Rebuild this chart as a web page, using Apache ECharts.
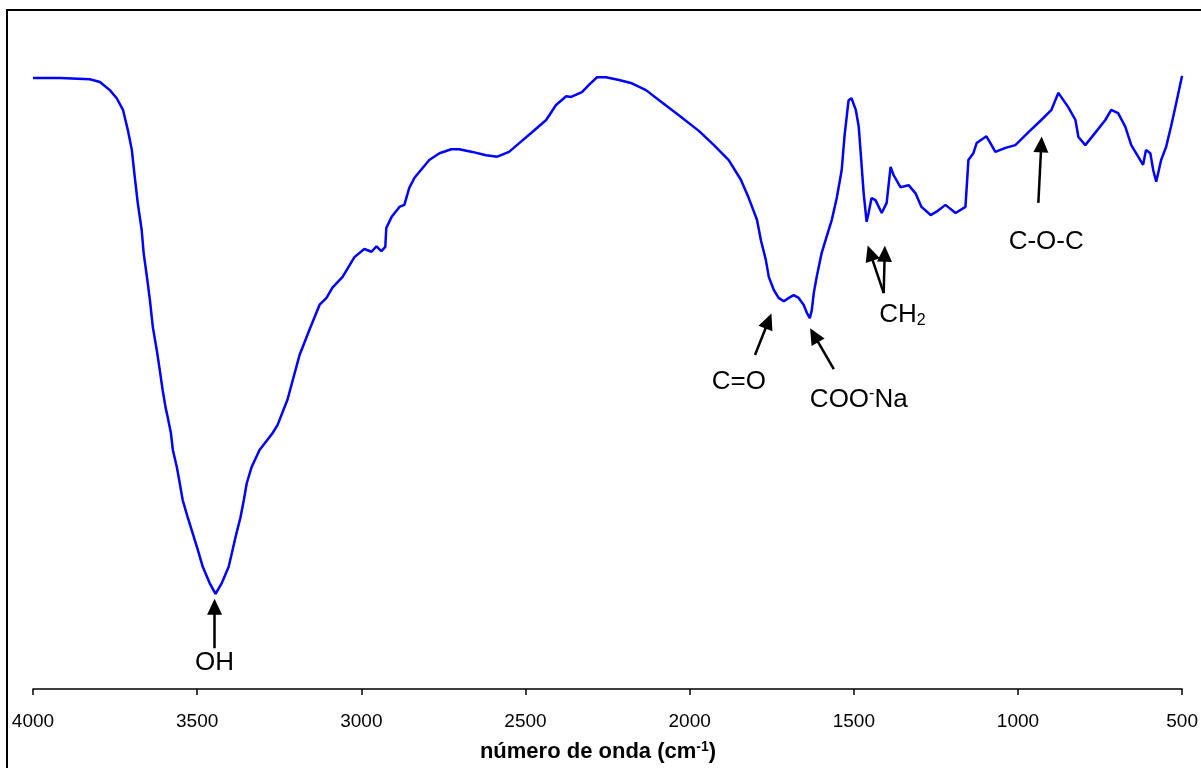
<!DOCTYPE html>
<html>
<head>
<meta charset="utf-8">
<title>Espectro FTIR</title>
<script src="https://cdn.jsdelivr.net/npm/echarts@6/dist/echarts.min.js"></script>
<style>
  html, body { margin: 0; padding: 0; background: #ffffff; }
  #chart { width: 1201px; height: 768px; }
</style>
</head>
<body>
<div id="chart"></div>
<script>
// Número de onda (cm-1) del espectro, de 4000 a 500
const wavenumber = [
  4000, 3918, 3827, 3796, 3766, 3745, 3726, 3711, 3699, 3690,
  3681, 3669, 3663, 3653, 3644, 3635, 3623, 3614, 3605, 3596,
  3590, 3580, 3574, 3562, 3553, 3544, 3529, 3514, 3498, 3483,
  3462, 3444, 3425, 3404, 3392, 3380, 3368, 3358, 3349, 3334,
  3310, 3270, 3255, 3225, 3188, 3158, 3127, 3106, 3088, 3057,
  3021, 2991, 2969, 2954, 2939, 2927, 2924, 2908, 2884, 2869,
  2854, 2838, 2814, 2793, 2762, 2726, 2702, 2662, 2620, 2586,
  2550, 2519, 2480, 2437, 2407, 2376, 2361, 2328, 2306, 2282,
  2255, 2215, 2176, 2133, 2093, 2033, 1972, 1926, 1881, 1844,
  1820, 1795, 1783, 1768, 1759, 1744, 1729, 1713, 1698, 1683,
  1668, 1653, 1643, 1634, 1628, 1622, 1613, 1598, 1583, 1567,
  1552, 1537, 1528, 1516, 1507, 1494, 1485, 1479, 1470, 1461,
  1455, 1446, 1434, 1415, 1400, 1388, 1379, 1358, 1333, 1312,
  1294, 1266, 1248, 1221, 1190, 1160, 1151, 1136, 1126, 1096,
  1084, 1069, 1038, 1008, 968, 929, 898, 877, 847, 825,
  816, 795, 765, 734, 716, 695, 673, 655, 634, 619,
  610, 597, 588, 579, 564, 549, 534, 518, 503, 500
];

// Transmitancia relativa (%) en cada número de onda
const transmittance = [
  90.0, 90.0, 89.8, 89.4, 88.2, 87.0, 85.3, 82.3, 79.4, 75.4,
  71.6, 67.6, 64.2, 60.7, 57.3, 53.3, 49.9, 47.0, 44.0, 41.4,
  40.1, 37.7, 35.2, 32.7, 30.3, 27.8, 25.3, 23.0, 20.5, 18.0,
  15.6, 14.0, 15.6, 18.0, 20.5, 23.0, 25.3, 27.8, 30.3, 32.7,
  35.2, 37.7, 38.9, 42.6, 49.2, 52.9, 56.6, 57.6, 59.1, 60.7,
  63.6, 64.8, 64.4, 65.2, 64.5, 65.1, 67.9, 69.5, 71.0, 71.3,
  73.8, 75.3, 76.7, 77.9, 78.9, 79.5, 79.5, 79.1, 78.6, 78.4,
  79.1, 80.4, 82.0, 83.8, 86.0, 87.3, 87.2, 87.9, 89.0, 90.1,
  90.1, 89.7, 89.2, 88.2, 86.7, 84.5, 82.2, 80.1, 77.9, 75.0,
  72.3, 69.1, 66.1, 63.2, 60.7, 58.8, 57.6, 57.1, 57.6, 58.0,
  57.6, 56.6, 55.4, 54.6, 55.8, 58.3, 60.7, 64.2, 66.6, 69.1,
  72.3, 76.4, 81.6, 86.7, 87.0, 85.3, 82.8, 78.9, 73.0, 68.8,
  70.1, 72.3, 72.0, 70.1, 71.6, 76.9, 75.7, 73.9, 74.2, 73.0,
  71.0, 69.8, 70.3, 71.3, 70.1, 71.0, 77.9, 78.9, 80.4, 81.4,
  80.4, 79.1, 79.7, 80.1, 82.0, 83.8, 85.3, 87.8, 85.7, 83.8,
  81.3, 80.1, 81.9, 83.8, 85.3, 84.8, 82.8, 80.1, 78.4, 77.2,
  79.4, 78.9, 76.4, 74.7, 77.9, 79.8, 82.8, 86.3, 89.7, 90.3
];

// Marcas del eje x
const xTicks = [4000, 3500, 3000, 2500, 2000, 1500, 1000, 500];

// Bandas asignadas: texto, posición del rótulo y flechas (cola -> punta) en unidades de datos
const bandLabels = ['OH', 'C=O', 'COO-Na', 'CH2', 'C-O-C'];
const bandAnnotations = [
  { label: '{t|OH}', at: [3447, 3.8],
    arrows: [[[3447, 6.0], [3447, 12.1]]] },
  { label: '{t|C=O}', at: [1850, 45.2],
    arrows: [[[1801, 49.2], [1760, 54.2]]] },
  { label: '{t|COO}{sup|-}{t|Na}', at: [1485, 42.6],
    arrows: [[[1561, 47.1], [1621, 52.1]]] },
  { label: '{t|CH}{sub|2}', at: [1352, 55.1],
    arrows: [[[1409, 58.3], [1450, 64.2]], [[1409, 58.3], [1406, 64.1]]] },
  { label: '{t|C-O-C}', at: [914, 65.8],
    arrows: [[[938, 71.6], [929, 80.2]]] }
];

const FONT = '"Liberation Sans", Arial, Helvetica, sans-serif';

const spectrum = wavenumber.map((w, i) => [w, transmittance[i]]);

const arrowLines = [];
bandAnnotations.forEach(a => {
  a.arrows.forEach(seg => {
    arrowLines.push([{ coord: seg[0] }, { coord: seg[1] }]);
  });
});

const labelPoints = bandAnnotations.map((a, i) => ({
  name: bandLabels[i],
  coord: a.at,
  label: { formatter: a.label }
}));

const chart = echarts.init(document.getElementById('chart'), null, { renderer: 'canvas' });

chart.setOption({
  animation: false,
  backgroundColor: '#ffffff',
  grid: { left: 33, right: 17, top: 10, bottom: 79, containLabel: false },
  xAxis: {
    type: 'value',
    inverse: true,
    min: 500,
    max: 4000,
    interval: 500,
    axisLine: { show: true, onZero: false, lineStyle: { color: '#000', width: 1.5 } },
    axisTick: { show: true, inside: false, length: 6, lineStyle: { color: '#000', width: 1.5 } },
    splitLine: { show: false },
    axisLabel: {
      color: '#000',
      fontSize: 19,
      fontFamily: FONT,
      margin: 23,
      showMinLabel: true,
      showMaxLabel: true,
      formatter: v => (xTicks.indexOf(v) >= 0 ? String(v) : '')
    }
  },
  yAxis: {
    type: 'value',
    min: 0,
    max: 100,
    show: false,
    splitLine: { show: false }
  },
  series: [
    {
      name: 'espectro',
      type: 'line',
      data: spectrum,
      showSymbol: false,
      symbol: 'none',
      smooth: false,
      lineStyle: { color: '#0000ff', width: 2.5 },
      silent: true,
      z: 3
    },
    {
      name: 'bandas',
      type: 'line',
      data: [],
      silent: true,
      markLine: {
        silent: true,
        animation: false,
        symbol: ['none', 'triangle'],
        symbolSize: [15, 16],
        lineStyle: { color: '#000', width: 2.5, type: 'solid' },
        label: { show: false },
        emphasis: { disabled: true },
        data: arrowLines
      },
      markPoint: {
        silent: true,
        animation: false,
        symbol: 'circle',
        symbolSize: 0,
        itemStyle: { color: 'transparent' },
        label: {
          show: true,
          position: 'inside',
          color: '#000',
          fontFamily: FONT,
          rich: {
            t: { fontSize: 26, color: '#000', fontFamily: FONT, lineHeight: 28 },
            sup: { fontSize: 16, color: '#000', fontFamily: FONT, verticalAlign: 'top', lineHeight: 28 },
            sub: { fontSize: 16, color: '#000', fontFamily: FONT, verticalAlign: 'bottom', lineHeight: 16, padding: [15, 0, 0, 0] }
          }
        },
        data: labelPoints
      }
    }
  ],
  graphic: [
    {
      type: 'rect',
      silent: true,
      shape: { x: 7, y: 10, width: 1250, height: 820 },
      style: { fill: 'none', stroke: '#000', lineWidth: 2 },
      z: 10
    },
    {
      type: 'text',
      silent: true,
      x: 598,
      y: 752,
      style: {
        text: '{b|número de onda (cm}{s|-1}{b|)}',
        align: 'center',
        verticalAlign: 'middle',
        rich: {
          b: { fontSize: 22, fontWeight: 'bold', fontFamily: FONT, fill: '#000', lineHeight: 24 },
          s: { fontSize: 14, fontWeight: 'bold', fontFamily: FONT, fill: '#000', verticalAlign: 'top', lineHeight: 24 }
        }
      }
    }
  ]
});
</script>
</body>
</html>
